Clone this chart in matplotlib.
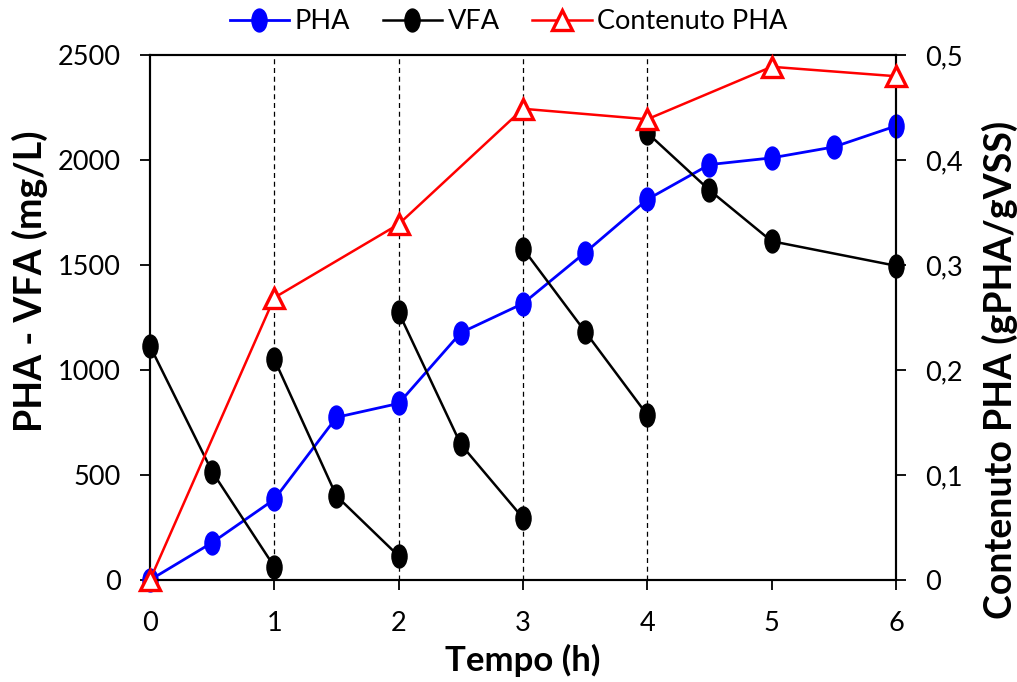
import matplotlib
matplotlib.use("Agg")
import matplotlib.pyplot as plt
import numpy as np
from matplotlib.path import Path
from matplotlib.lines import Line2D
from matplotlib.ticker import FuncFormatter, MultipleLocator

plt.rcParams['font.family'] = ['Lato', 'DejaVu Sans']

# Data
pha_t = [0, 0.5, 1, 1.5, 2, 2.5, 3, 3.5, 4, 4.5, 5, 5.5, 6]
pha_v = [0, 178, 384, 775, 841, 1178, 1317, 1560, 1813, 1979, 2011, 2063, 2163]

vfa_cycles_t = [[0, 0.5, 1], [1, 1.5, 2], [2, 2.5, 3], [3, 3.5, 4], [4, 4.5, 5, 6]]
vfa_cycles_v = [[1114, 516, 63], [1051, 400, 114], [1275, 646, 295],
                [1579, 1183, 786], [2130, 1857, 1614, 1497]]

cont_t = [0, 1, 2, 3, 4, 5, 6]
cont_v = [0, 0.269, 0.339, 0.449, 0.439, 0.489, 0.480]

cycle_bounds = [1, 2, 3, 4]

# elliptical marker (Excel-like stretched circle)
circ = Path.unit_circle()
ell = Path(circ.vertices * np.array([0.66, 1.0]), circ.codes)

fig = plt.figure(figsize=(10.17, 6.82), dpi=100)
ax = fig.add_axes([0.1475, 0.1496, 0.7335, 0.7694])
ax2 = ax.twinx()

for x in cycle_bounds:
    ax.axvline(x, color='black', lw=0.9, ls=(0, (4, 3)), zorder=1)

ax.plot(pha_t, pha_v, color='#0000FF', lw=2.0, marker=ell, ms=16.5,
        mfc='#0000FF', mec='#0000FF', zorder=3, clip_on=False)
for t, v in zip(vfa_cycles_t, vfa_cycles_v):
    ax.plot(t, v, color='black', lw=1.8, marker=ell, ms=16.5,
            mfc='black', mec='black', zorder=4, clip_on=False)

ax2.plot(cont_t, cont_v, color='#FF0000', lw=1.8, marker='^', ms=15,
         mfc='white', mec='#FF0000', mew=2.4, zorder=5, clip_on=False)

ax.set_xlim(0, 6)
ax.set_ylim(0, 2500)
ax2.set_ylim(0, 0.5)
ax.xaxis.set_major_locator(MultipleLocator(1))
ax.yaxis.set_major_locator(MultipleLocator(500))
ax2.yaxis.set_major_locator(MultipleLocator(0.1))

def comma(v, pos):
    if abs(v) < 1e-9:
        return '0'
    return ('%.1f' % v).replace('.', ',')
ax2.yaxis.set_major_formatter(FuncFormatter(comma))

for a in (ax, ax2):
    for s in a.spines.values():
        s.set_linewidth(1.5)
        s.set_color('black')
ax.tick_params(axis='x', direction='out', length=7, width=1.3, labelsize=19.5, pad=15)
ax.tick_params(axis='y', direction='out', length=7, width=1.3, labelsize=19.5, pad=14)
ax2.tick_params(axis='y', direction='out', length=7, width=1.3, labelsize=19.5, pad=14)

fig.text(523 / 1017, 1 - 660 / 682, 'Tempo (h)', fontsize=25, fontweight='bold',
         ha='center', va='center')
fig.text(30 / 1017, 1 - 281 / 682, 'PHA - VFA (mg/L)', fontsize=27, fontweight='bold',
         ha='center', va='center', rotation=90)
fig.text(1000 / 1017, 1 - 370 / 682, 'Contenuto PHA (gPHA/gVSS)', fontsize=27,
         fontweight='bold', ha='center', va='center', rotation=90)

handles = [
    Line2D([], [], color='#0000FF', lw=2.0, marker=ell, ms=16.5, mfc='#0000FF', mec='#0000FF'),
    Line2D([], [], color='black', lw=1.8, marker=ell, ms=16.5, mfc='black', mec='black'),
    Line2D([], [], color='#FF0000', lw=1.8, marker='^', ms=15, mfc='white', mec='#FF0000', mew=2.4),
]
fig.legend(handles, ['PHA', 'VFA', 'Contenuto PHA'], loc='center', bbox_to_anchor=(0.5, 0.968),
           ncol=3, frameon=False, fontsize=19.5, handlelength=2.2, handletextpad=0.2,
           columnspacing=1.2, borderpad=0)

fig.savefig('out.png', dpi=100)
